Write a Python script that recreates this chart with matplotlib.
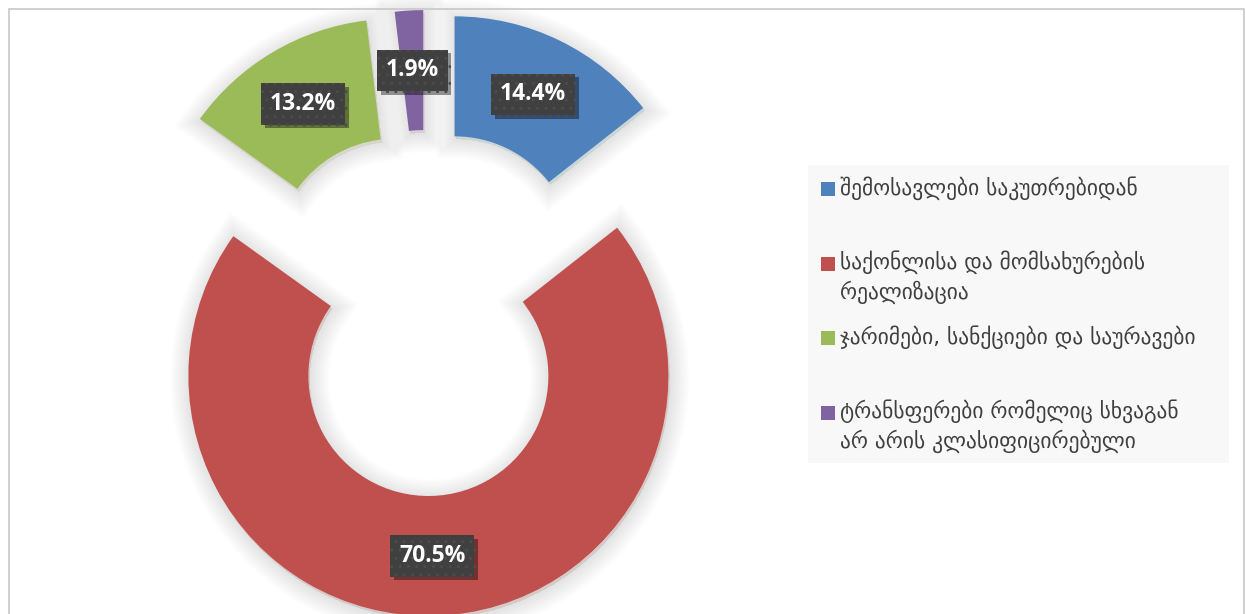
import matplotlib.pyplot as plt
from matplotlib import patheffects as pe
from matplotlib.patches import Rectangle

# data
categories = [
    "შემოსავლები საკუთრებიდან",
    "საქონლისა და მომსახურების\nრეალიზაცია",
    "ჯარიმები, სანქციები და საურავები",
    "ტრანსფერები რომელიც სხვაგან\nარ არის კლასიფიცირებული",
]
shares = [14.4, 70.5, 13.2, 1.9]
colors = ["#4F81BD", "#C0504D", "#9BBB59", "#8064A2"]

W, H = 1245, 614

fig = plt.figure(figsize=(W / 100, H / 100), dpi=100)
ax = fig.add_axes([0, 0, 1, 1])

# soft glow behind each slice (rough stand-in for the Office shadow)
glow = [
    pe.Stroke(linewidth=lw, foreground="black", alpha=0.009, offset=(1, -2))
    for lw in range(28, 0, -2)
] + [pe.Normal()]

wedges, _, autotexts = ax.pie(
    shares,
    colors=colors,
    radius=240,
    center=(427, H - 313),
    startangle=90,
    counterclock=False,
    explode=[63] * len(shares),
    wedgeprops=dict(width=120, linewidth=0, path_effects=glow),
    autopct="%.1f%%",
    pctdistance=0.75,
    textprops=dict(color="white", fontsize=16.5, fontweight="bold",
                   family="Open Sans"),
    frame=True,
)
ax.set_xlim(0, W)
ax.set_ylim(0, H)
ax.set_aspect("equal")
ax.axis("off")

for t in autotexts:
    t.set_bbox(dict(boxstyle="square,pad=0.38", facecolor="#404040",
                    edgecolor="#4c4c4c", linewidth=0, hatch=".."))
    t.get_bbox_patch().set_path_effects(
        [pe.SimplePatchShadow(offset=(2.5, -2.5), shadow_rgbFace="black", alpha=0.4),
         pe.Normal()]
    )
    t.set_zorder(5)

# legend, drawn by hand so wrapped entries keep the marker on the first line
leg_left, leg_top, leg_right, leg_bottom = 808, 165, 1229, 463
ax.add_patch(Rectangle((leg_left, H - leg_bottom), leg_right - leg_left,
                       leg_bottom - leg_top, facecolor="#f8f8f8",
                       edgecolor="none", zorder=2))
slot = (leg_bottom - leg_top) / len(categories)
for i, (lab, col) in enumerate(zip(categories, colors)):
    yc = H - (leg_top + i * slot + 24)
    ax.add_patch(Rectangle((821, yc - 7), 14, 14, facecolor=col,
                           edgecolor="none", zorder=3))
    ax.text(840, yc + 13, lab, ha="left", va="top", fontsize=15.5,
            color="#404040", family=["DejaVu Sans"], linespacing=1.35, zorder=3)

# outer frame of the chart area
ax.add_patch(Rectangle((8.5, -20), 1235, H - 9 + 20, facecolor="none",
                       edgecolor="#c8c8c8", linewidth=1.2, zorder=6))

fig.savefig("out.png", dpi=100)
